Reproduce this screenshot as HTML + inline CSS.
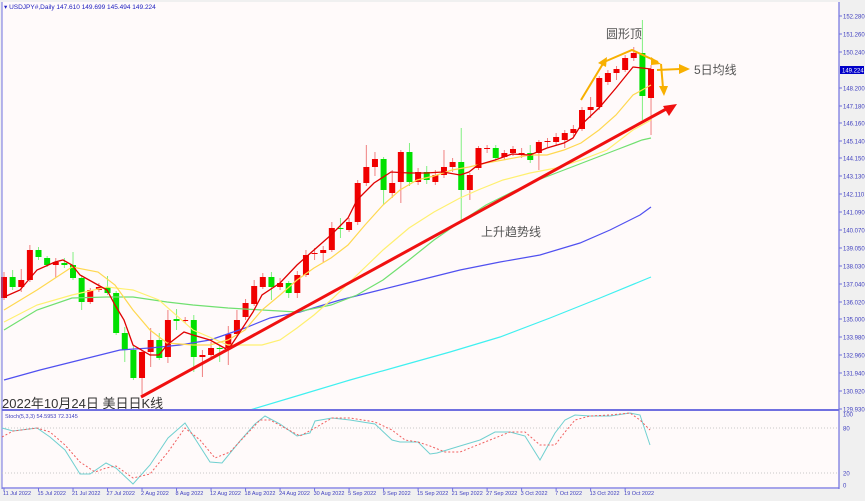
<!DOCTYPE html>
<html><head><meta charset="utf-8"><style>
html,body{margin:0;padding:0;background:#fff;}
svg{display:block;font-family:"Liberation Sans","Noto Sans CJK SC",sans-serif;}
</style></head><body>
<svg id="s" width="865" height="501" viewBox="0 0 865 501" xmlns="http://www.w3.org/2000/svg">
<rect x="0" y="0" width="865" height="501" fill="#f0f0f0"/>
<rect x="2" y="2" width="837" height="487" fill="#fffafa"/>
<g id="g"></g>
</svg>
<script>
var g=document.getElementById('g');var NS="http://www.w3.org/2000/svg";
function el(t,a,txt){var e=document.createElementNS(NS,t);for(var k in a)e.setAttribute(k,a[k]);if(txt!==undefined)e.textContent=txt;g.appendChild(e);return e;}
function X(i){return 4+i*8.627;}
// candles: [bodyTop, bodyBottom, high, low, up?]
var C=[[277,298,272,300,1],[277,287,270,290,0],[280,287,269,292,1],[250,280,245,282,1],[250,257,247,260,0],[258,265,256,267,0],[262,265,258,278,1],[263,265,258,268,0],[265,278,252,280,0],[278,302,275,310,0],[290,302,288,304,1],[287,290,283,292,1],[287,293,276,295,0],[293,333,291,335,0],[333,350,327,362,0],[350,378,345,380,0],[352,378,350,397,1],[340,352,328,367,1],[340,358,333,360,0],[320,357,310,363,1],[319,321,309,330,0],[320,321,317,323,1],[320,357,315,372,0],[355,357,350,377,1],[348,355,342,358,1],[348,349,346,362,0],[334,348,326,365,1],[320,334,310,336,1],[303,317,299,320,1],[286,304,280,306,1],[277,287,273,289,1],[277,287,272,300,0],[283,287,278,290,1],[283,293,281,298,0],[275,293,271,298,1],[255,275,250,277,1],[253,254,248,260,1],[250,253,246,262,1],[228,250,222,252,1],[228,229,218,238,0],[222,230,218,232,1],[183,222,180,225,1],[167,183,145,186,1],[159,167,152,176,1],[159,190,157,205,0],[183,193,170,198,1],[152,182,150,203,1],[152,182,143,186,0],[172,182,168,185,1],[172,180,166,184,0],[175,182,170,185,1],[167,175,150,178,1],[162,167,158,172,1],[162,190,128,220,0],[175,190,173,200,1],[148,168,146,170,1],[148,149,145,153,1],[148,158,145,160,0],[153,157,150,160,1],[149,153,146,156,1],[153,154,148,158,1],[153,160,145,163,0],[142,153,140,170,1],[141,142,138,147,1],[137,142,133,146,1],[133,140,130,148,1],[129,133,125,136,1],[110,129,107,131,1],[107,110,97,118,1],[78,107,76,110,1],[73,82,70,85,1],[69,73,66,80,1],[58,70,55,72,1],[53,58,47,61,1],[53,96,20,120,0],[69,98,65,135,1]];
for(var i=0;i<C.length;i++){var c=C[i],x=X(i),col=c[4]?'#f00000':'#00e000',wc=c[4]?'#f08080':'#80f080';
el('line',{x1:x,y1:c[2],x2:x,y2:c[3],stroke:wc,'stroke-width':1});
el('rect',{x:x-3,y:c[0],width:6,height:Math.max(1,c[1]-c[0]),fill:col});}
function pl(p,col,w,extra){var a={points:p,fill:'none',stroke:col,'stroke-width':w};for(var k in extra)a[k]=extra[k];return el('polyline',a);}
pl("250,410 300,395 350,380 400,366 450,352 500,337 550,318 600,298 651,277",'#40f0f0',1.2);
pl("4,380 40,370 80,360 120,350 150,348 180,345 210,340 245,328 270,318 300,312 340,300 380,290 420,280 460,270 500,262 540,255 580,243 610,230 640,215 651,207",'#5050f0',1.2);
pl("4,330 37,310 72,298 107,297 133,297 167,302 193,305 228,308 262,310 297,312 331,305 357,295 383,280 409,260 434,240 460,222 486,205 512,192 538,180 564,170 590,160 616,150 642,140 651,138",'#70e070',1.2);
pl("4,322 37,305 72,295 107,287 133,290 159,300 193,330 228,345 262,345 280,340 297,328 314,315 331,300 357,275 383,250 409,228 434,212 460,198 478,190 503,180 530,173 556,168 581,160 607,150 633,130 651,120",'#fff070',1.2);
pl("4,310 37,290 72,267 98,272 115,285 133,310 150,330 167,343 193,345 210,345 228,340 245,330 262,310 280,295 297,280 314,268 331,258 348,245 365,225 383,205 400,190 417,180 434,176 452,170 469,167 486,163 503,160 530,155 547,155 564,150 581,143 599,130 616,115 633,95 651,85",'#ffd850',1.2);
pl("4,297 20,290 37,270 55,262 63,260 72,265 80,275 98,285 107,290 115,305 124,320 133,345 150,355 159,355 167,345 184,332 193,335 210,340 228,350 236,338 253,312 262,295 280,283 297,265 314,250 331,235 348,218 357,200 374,183 391,172 409,173 426,173 443,172 460,175 469,172 478,165 495,160 512,154 530,155 547,148 564,143 573,138 581,125 599,108 616,88 633,67 642,68 651,69",'#e00000',1.3);
// trend line
el('line',{x1:141,y1:397,x2:668,y2:108,stroke:'#f01010','stroke-width':3});
el('polygon',{points:"677,104 663,106 669,116",fill:'#f01010'});
// orange arrows
var o='#f8b000';
pl("581,100 604,62",o,2);el('polygon',{points:"607,57 598,63 606,67",fill:o});
pl("604,62 632,50 658,62",o,2);el('polygon',{points:"661,64 651,57 651,65",fill:o});
pl("661,64 663,88",o,2);el('polygon',{points:"664,96 659,86 668,86",fill:o});
pl("657,70 680,69",o,2);el('polygon',{points:"690,69 679,64 679,74",fill:o});
el('text',{x:606,y:38,'font-size':12,fill:'#555'},'圆形顶');
el('text',{x:694,y:74,'font-size':12,fill:'#555'},'5日均线');
el('text',{x:481,y:236,'font-size':12,fill:'#555'},'上升趋势线');
el('text',{x:2,y:408,'font-size':13,fill:'#333'},'2022年10月24日 美日日K线');
// header
el('text',{x:4,y:9,'font-size':6.5,fill:'#2020c0'},'▾  USDJPY#,Daily  147.610 149.699 145.494 149.224');
// frames
el('line',{x1:2,y1:2,x2:2,y2:489,stroke:'#7070e0','stroke-width':1});
el('line',{x1:839,y1:2,x2:839,y2:489,stroke:'#7070e0','stroke-width':1.2});
el('line',{x1:2,y1:410,x2:839,y2:410,stroke:'#7070e0','stroke-width':2});
el('line',{x1:2,y1:488,x2:839,y2:488,stroke:'#7070e0','stroke-width':1.2});
// right axis
var L=[["152.280",16],["151.260",34],["150.240",52],["148.200",88],["147.180",106],["146.160",123],["145.140",141],["144.150",158],["143.130",176],["142.110",194],["141.090",212],["140.070",230],["139.050",248],["138.030",266],["137.040",284],["136.020",302],["135.000",319],["133.980",337],["132.960",355],["131.940",373],["130.920",391],["129.930",409]];
L.forEach(function(l){el('line',{x1:839,y1:l[1],x2:842,y2:l[1],stroke:'#7070e0'});el('text',{x:843,y:l[1]+2.5,'font-size':6,fill:'#4040c0'},l[0]);});
el('rect',{x:840,y:66,width:24,height:8,fill:'#0000c8'});
el('text',{x:842,y:72.5,'font-size':6,fill:'#fff'},'149.224');
[["100",414],["80",428],["20",473],["0",485]].forEach(function(l){el('text',{x:843,y:l[1]+2.5,'font-size':6,fill:'#4040c0'},l[0]);});
el('line',{x1:2,y1:428,x2:839,y2:428,stroke:'#c8c8c8','stroke-dasharray':'1,2'});
el('line',{x1:2,y1:473,x2:839,y2:473,stroke:'#c8c8c8','stroke-dasharray':'1,2'});
el('text',{x:5,y:418,'font-size':5.5,fill:'#4040c0'},'Stoch(5,3,3) 54.5953 72.3145');
pl("2,428 13,431 37,428 50,437 65,450 80,474 90,474 106,463 116,468 133,484 150,465 168,438 185,423 210,462 222,463 240,441 255,424 265,416 280,424 297,436 310,433 315,421 332,418 350,420 375,424 392,440 400,442 418,442 430,454 437,453 460,446 480,440 495,432 510,432 525,436 540,460 555,433 565,420 575,415 590,416 610,416 630,413 640,415 650,445",'#70d0d0',1);
pl("2,437 13,431 37,428 50,432 65,445 80,462 95,472 106,468 116,466 133,478 150,474 168,452 185,428 200,440 215,458 230,452 245,436 260,420 270,420 285,428 300,436 315,428 332,418 350,418 375,422 392,430 405,440 418,442 430,446 445,452 460,452 480,444 495,438 510,432 525,432 540,445 555,445 565,432 575,420 590,416 610,415 630,413 640,420 650,430",'#f06060',1,{'stroke-dasharray':'2,2'});
// dates
var D=["11 Jul 2022","15 Jul 2022","21 Jul 2022","27 Jul 2022","2 Aug 2022","8 Aug 2022","12 Aug 2022","18 Aug 2022","24 Aug 2022","30 Aug 2022","5 Sep 2022","9 Sep 2022","15 Sep 2022","21 Sep 2022","27 Sep 2022","3 Oct 2022","7 Oct 2022","13 Oct 2022","19 Oct 2022"];
D.forEach(function(d,i){var x=X(i*4);el('line',{x1:x,y1:488,x2:x,y2:491,stroke:'#7070e0'});el('text',{x:x-1,y:495,'font-size':5.5,fill:'#4040c0'},d);});
</script>
</body></html>
